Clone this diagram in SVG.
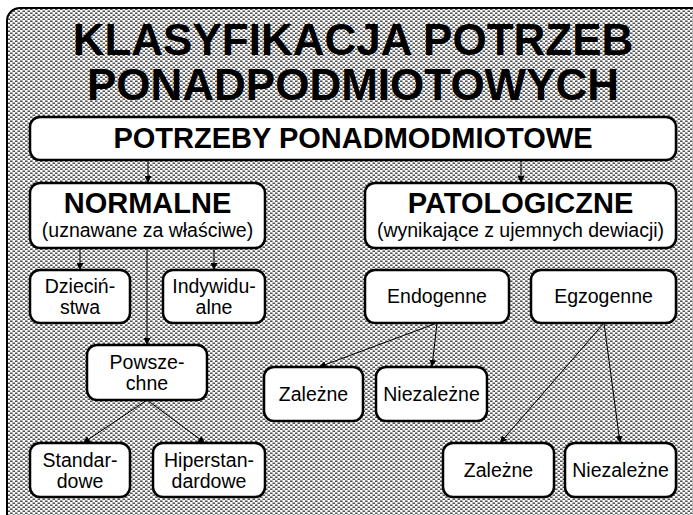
<svg xmlns="http://www.w3.org/2000/svg" width="693" height="515" viewBox="0 0 693 515">
<defs>
<pattern id="dots" patternUnits="userSpaceOnUse" width="5" height="4">
<rect width="5" height="4" fill="#ffffff"/>
<rect x="0" y="0.5" width="2.6" height="1.4" fill="#404040"/>
<rect x="2.5" y="2.5" width="2.6" height="1.4" fill="#404040"/>
<rect x="-2.5" y="2.5" width="2.6" height="1.4" fill="#404040"/>
</pattern>
<marker id="ah" viewBox="0 0 10 10" refX="10" refY="5" markerWidth="7" markerHeight="7" markerUnits="userSpaceOnUse" orient="auto">
<path d="M0,0 L10,5 L0,10 z" fill="#000"/>
</marker>
<style>
.box{fill:#fff;stroke:#000;stroke-width:2.5}
.t{font-family:"Liberation Sans",Arial,sans-serif;fill:#000;text-anchor:middle}
.title{font-size:44px;font-weight:bold}
.big{font-size:29px;font-weight:bold}
.sub{font-size:19.5px}
.n{font-size:19.5px}
.c{stroke:#000;stroke-width:1;fill:none;marker-end:url(#ah)}
</style>
</defs>
<rect x="7" y="8" width="705" height="525" rx="13" fill="url(#dots)" stroke="#000" stroke-width="2"/>
<g id="title">
<text class="t title" x="353" y="55">KLASYFIKACJA POTRZEB</text>
<text class="t title" x="353" y="100">PONADPODMIOTOWYCH</text>
</g>
<g id="connectors">
<line class="c" x1="148" y1="160" x2="148" y2="183"/>
<line class="c" x1="521" y1="160" x2="521" y2="183"/>
<line class="c" x1="80" y1="248" x2="80" y2="270"/>
<line class="c" x1="214" y1="248" x2="214" y2="270"/>
<line class="c" x1="147" y1="248" x2="147" y2="345"/>
<line class="c" x1="147" y1="400" x2="83" y2="443"/>
<line class="c" x1="147" y1="400" x2="205" y2="443"/>
<line class="c" x1="437" y1="323" x2="319" y2="367"/>
<line class="c" x1="437" y1="323" x2="432" y2="367"/>
<line class="c" x1="604" y1="323" x2="500" y2="443"/>
<line class="c" x1="604" y1="323" x2="620" y2="443"/>
</g>
<g id="root">
<rect class="box" x="30" y="117" width="646" height="43" rx="10"/>
<text class="t big" x="353" y="148">POTRZEBY PONADMODMIOTOWE</text>
</g>
<g id="normalne">
<rect class="box" x="30" y="183" width="235" height="65" rx="10"/>
<text class="t big" x="147.5" y="213">NORMALNE</text>
<text class="t sub" x="147.5" y="237">(uznawane za właściwe)</text>
</g>
<g id="patologiczne">
<rect class="box" x="365" y="183" width="311" height="65" rx="10"/>
<text class="t big" x="520.5" y="213">PATOLOGICZNE</text>
<text class="t sub" x="520.5" y="237">(wynikające z ujemnych dewiacji)</text>
</g>
<g id="dziecinstwa">
<rect class="box" x="30" y="270" width="100" height="53" rx="10"/>
<text class="t n" x="80" y="293">Dzieciń-</text>
<text class="t n" x="80" y="314">stwa</text>
</g>
<g id="indywidualne">
<rect class="box" x="163" y="270" width="102" height="53" rx="10"/>
<text class="t n" x="214" y="293">Indywidu-</text>
<text class="t n" x="214" y="314">alne</text>
</g>
<g id="powszechne">
<rect class="box" x="87" y="345" width="120" height="55" rx="10"/>
<text class="t n" x="147" y="369">Powsze-</text>
<text class="t n" x="147" y="390">chne</text>
</g>
<g id="standardowe">
<rect class="box" x="30" y="443" width="100" height="54" rx="10"/>
<text class="t n" x="80" y="467">Standar-</text>
<text class="t n" x="80" y="488">dowe</text>
</g>
<g id="hiperstandardowe">
<rect class="box" x="153" y="443" width="112" height="54" rx="10"/>
<text class="t n" x="209" y="467">Hiperstan-</text>
<text class="t n" x="209" y="488">dardowe</text>
</g>
<g id="endogenne">
<rect class="box" x="365" y="270" width="144" height="53" rx="10"/>
<text class="t n" x="437" y="303">Endogenne</text>
</g>
<g id="egzogenne">
<rect class="box" x="531" y="270" width="145" height="53" rx="10"/>
<text class="t n" x="603.5" y="303">Egzogenne</text>
</g>
<g id="zalezne1">
<rect class="box" x="264" y="367" width="99" height="54" rx="10"/>
<text class="t n" x="313.5" y="401">Zależne</text>
</g>
<g id="niezalezne1">
<rect class="box" x="376" y="367" width="111" height="54" rx="10"/>
<text class="t n" x="431.5" y="401">Niezależne</text>
</g>
<g id="zalezne2">
<rect class="box" x="443" y="443" width="111" height="54" rx="10"/>
<text class="t n" x="498.5" y="477">Zależne</text>
</g>
<g id="niezalezne2">
<rect class="box" x="565" y="443" width="111" height="54" rx="10"/>
<text class="t n" x="620.5" y="477">Niezależne</text>
</g>
</svg>
